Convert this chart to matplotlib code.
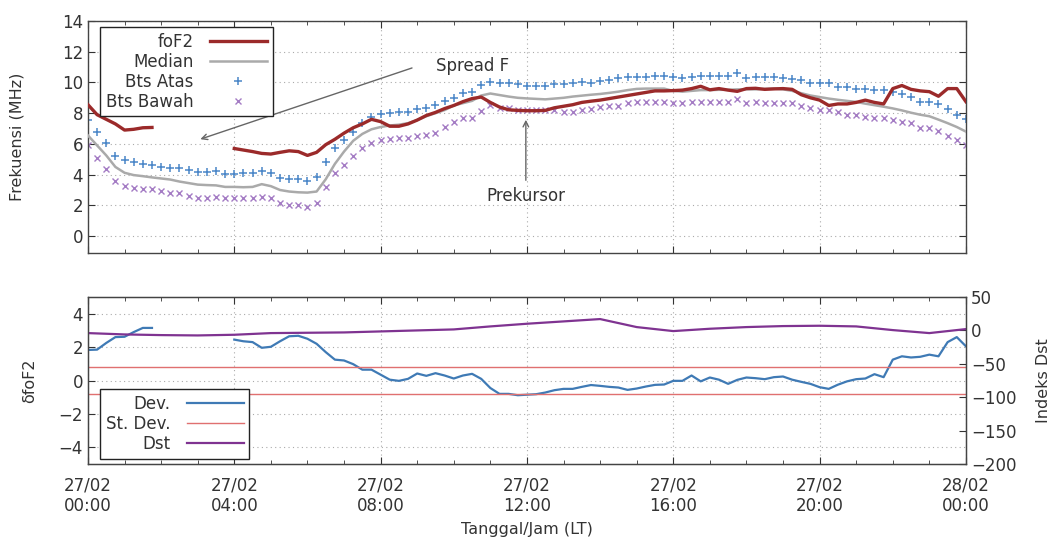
import numpy as np
import matplotlib
matplotlib.use('Agg')
import matplotlib.pyplot as plt
from matplotlib.ticker import MultipleLocator, FixedLocator

plt.rcParams['font.family'] = ['DejaVu Sans']
plt.rcParams['text.color'] = '#333333'
plt.rcParams['axes.labelcolor'] = '#333333'
plt.rcParams['xtick.color'] = '#333333'
plt.rcParams['ytick.color'] = '#333333'

nan = np.nan

# waktu (jam LT) tiap 15 menit, 27/02 00:00 - 28/02 00:00
jam = np.arange(97) * 0.25

fof2 = [8.55, 7.9, 7.6, 7.3, 6.9, 6.95, 7.05, 7.07,
        nan, nan, nan, nan, nan, nan, nan, nan,
        5.7, 5.6, 5.5, 5.38, 5.34, 5.45, 5.55, 5.5,
        5.25, 5.45, 5.95, 6.3, 6.7, 7.05, 7.3, 7.6,
        7.45, 7.15, 7.15, 7.3, 7.55, 7.85, 8.05, 8.3,
        8.5, 8.75, 8.95, 9.05, 8.7, 8.4, 8.22, 8.18,
        8.16, 8.16, 8.18, 8.35, 8.45, 8.55, 8.7, 8.78,
        8.85, 8.95, 9.05, 9.15, 9.25, 9.35, 9.45, 9.45,
        9.47, 9.5, 9.6, 9.75, 9.52, 9.6, 9.5, 9.42,
        9.6, 9.62, 9.55, 9.58, 9.6, 9.55, 9.2, 9.0,
        8.85, 8.5, 8.6, 8.6, 8.7, 8.85, 8.7, 8.6,
        9.6, 9.8, 9.55, 9.45, 9.4, 9.1, 9.6, 9.6,
        8.75]

median = [6.55, 5.9, 5.25, 4.5, 4.12, 3.97, 3.9, 3.82,
          3.75, 3.68, 3.55, 3.45, 3.35, 3.32, 3.3, 3.2,
          3.2, 3.18, 3.2, 3.38, 3.25, 3.0, 2.9, 2.85,
          2.83, 2.9, 3.7, 4.7, 5.5, 6.2, 6.65, 6.95,
          7.1, 7.2, 7.25, 7.35, 7.55, 7.8, 8.0, 8.2,
          8.5, 8.65, 8.8, 9.15, 9.28, 9.18, 9.08, 9.0,
          8.96, 8.93, 8.9, 8.95, 9.0, 9.08, 9.14, 9.2,
          9.25, 9.32, 9.4, 9.5, 9.58, 9.6, 9.6, 9.6,
          9.45, 9.4, 9.45, 9.5, 9.5, 9.52, 9.52, 9.55,
          9.55, 9.55, 9.58, 9.6, 9.55, 9.45, 9.3, 9.15,
          9.05, 8.95, 8.87, 8.8, 8.73, 8.62, 8.52, 8.42,
          8.31, 8.18, 8.03, 7.9, 7.8, 7.58, 7.35, 7.1,
          6.8]

bts_atas = [7.55, 6.75, 6.03, 5.21, 4.95, 4.82, 4.69, 4.64,
            4.51, 4.45, 4.43, 4.30, 4.17, 4.17, 4.25, 4.04,
            4.04, 4.08, 4.12, 4.25, 4.12, 3.78, 3.69, 3.69,
            3.60, 3.82, 4.84, 5.71, 6.25, 6.79, 7.38, 7.73,
            7.94, 8.03, 8.05, 8.09, 8.25, 8.35, 8.53, 8.81,
            9.01, 9.29, 9.35, 9.83, 10.05, 9.94, 9.94, 9.90,
            9.79, 9.79, 9.79, 9.90, 9.90, 9.94, 10.0, 9.98,
            10.11, 10.16, 10.26, 10.33, 10.37, 10.37, 10.44, 10.44,
            10.37, 10.3, 10.35, 10.4, 10.44, 10.44, 10.44, 10.6,
            10.28, 10.37, 10.33, 10.37, 10.3, 10.2, 10.16, 9.98,
            9.98, 9.98, 9.72, 9.68, 9.55, 9.55, 9.5, 9.5,
            9.4, 9.22, 9.07, 8.74, 8.74, 8.57, 8.25, 7.88,
            7.6]

bts_bawah = [5.92, 5.10, 4.34, 3.58, 3.26, 3.10, 3.04, 3.04,
             2.93, 2.82, 2.78, 2.60, 2.50, 2.45, 2.56, 2.45,
             2.45, 2.45, 2.50, 2.56, 2.45, 2.17, 2.02, 2.02,
             1.91, 2.13, 3.17, 4.08, 4.62, 5.21, 5.75, 6.03,
             6.25, 6.32, 6.36, 6.40, 6.51, 6.58, 6.73, 7.12,
             7.44, 7.66, 7.66, 8.16, 8.53, 8.36, 8.36, 8.20,
             8.20, 8.20, 8.20, 8.20, 8.09, 8.09, 8.20, 8.27,
             8.42, 8.49, 8.49, 8.64, 8.70, 8.70, 8.75, 8.72,
             8.68, 8.68, 8.7, 8.7, 8.72, 8.72, 8.74, 8.9,
             8.64, 8.74, 8.64, 8.64, 8.64, 8.64, 8.46, 8.31,
             8.2, 8.2, 8.09, 7.88, 7.88, 7.77, 7.66, 7.66,
             7.55, 7.44, 7.33, 7.01, 7.01, 6.86, 6.53, 6.25,
             5.92]

dev = [1.83, 1.85, 2.25, 2.6, 2.62, 2.9, 3.15, 3.15,
       nan, nan, nan, nan, nan, nan, nan, nan,
       2.45, 2.35, 2.3, 1.96, 2.02, 2.35, 2.65, 2.68,
       2.5, 2.2, 1.7, 1.25, 1.2, 0.98, 0.65, 0.65,
       0.35, 0.05, -0.02, 0.1, 0.42, 0.28, 0.44, 0.3,
       0.12, 0.3, 0.4, 0.1, -0.45, -0.8, -0.8, -0.88,
       -0.85, -0.82, -0.72, -0.58, -0.5, -0.5, -0.38, -0.27,
       -0.32, -0.38, -0.42, -0.56, -0.48, -0.36, -0.26, -0.24,
       -0.02, -0.02, 0.3, -0.05, 0.18, 0.05, -0.2, 0.04,
       0.18, 0.14, 0.08, 0.2, 0.24, 0.05, -0.08, -0.2,
       -0.4, -0.5, -0.25, -0.05, 0.08, 0.12, 0.38, 0.2,
       1.25, 1.45, 1.38, 1.42, 1.55, 1.45, 2.3, 2.6,
       2.05]

st_dev = 0.8

# indeks Dst per jam
jam_dst = np.arange(25)
dst = [-4, -6, -7, -7.5, -6.5, -4, -3.5, -3, -1.5, 0, 1.5, 6, 10,
       13.5, 17, 5, -1, 2.5, 5, 6.5, 7, 6, 0.5, -4, 2]

label_jam = ['27/02\n00:00', '27/02\n04:00', '27/02\n08:00', '27/02\n12:00',
             '27/02\n16:00', '27/02\n20:00', '28/02\n00:00']

fig = plt.figure(figsize=(10.56, 5.45), dpi=100)
ax1 = fig.add_axes([0.0833, 0.5358, 0.8314, 0.4257])
ax2 = fig.add_axes([0.0833, 0.1486, 0.8314, 0.3064])

leg_kw = dict(markerfirst=False, fancybox=False, edgecolor='#222222', framealpha=1,
              fontsize=12, handlelength=3.4, borderpad=0.35, labelspacing=0.12,
              handletextpad=1.0, borderaxespad=0)


def gaya(ax):
    for s in ax.spines.values():
        s.set_color('#444444')
        s.set_linewidth(1.0)
    ax.set_xlim(0, 24)
    ax.xaxis.set_major_locator(MultipleLocator(4))
    ax.xaxis.set_minor_locator(MultipleLocator(1))
    ax.tick_params(which='both', direction='in', top=True, labelsize=12)
    ax.tick_params(which='major', length=5)
    ax.tick_params(which='minor', length=3)
    ax.tick_params(axis='x', pad=9)
    ax.grid(True, which='major', linestyle=(0, (1, 3)), color='#aaaaaa', linewidth=0.8)


# panel atas
gaya(ax1)
ax1.plot(jam, fof2, color='#9b2a2a', lw=2.4, label='foF2', zorder=4)
ax1.plot(jam, median, color='#aaaaaa', lw=1.8, label='Median', zorder=3)
ax1.plot(jam, bts_atas, ls='none', marker='+', ms=6, mew=1.1, color='#4a86c8', label='Bts Atas')
ax1.plot(jam, bts_bawah, ls='none', marker='x', ms=5, mew=1.0, color='#a47cc4', label='Bts Bawah')
ax1.set_ylim(-1.1, 14)
ax1.yaxis.set_major_locator(MultipleLocator(2))
ax1.tick_params(axis='y', right=True)
ax1.set_xticklabels([])
ax1.set_ylabel('Frekuensi (MHz)', fontsize=11.5)
ax1.yaxis.set_label_coords(-0.072, 0.5)
ax1.legend(loc='upper left', bbox_to_anchor=(0.0137, 0.975), **leg_kw)

ax1.annotate('', xy=(3.0, 6.25), xytext=(8.93, 11.0),
             arrowprops=dict(arrowstyle='->', color='#666666', lw=1.0))
ax1.text(10.5, 11.1, 'Spread F', ha='center', va='center', fontsize=12)
ax1.annotate('', xy=(11.97, 7.75), xytext=(11.97, 3.45),
             arrowprops=dict(arrowstyle='->', color='#666666', lw=1.0))
ax1.text(11.97, 2.6, 'Prekursor', ha='center', va='center', fontsize=12)

# panel bawah
gaya(ax2)
l1, = ax2.plot(jam, dev, color='#3f7ab5', lw=1.6, label='Dev.')
ax2.plot(jam, [st_dev] * len(jam), color='#e07070', lw=1.0)
l2, = ax2.plot(jam, [-st_dev] * len(jam), color='#e07070', lw=1.0, label='St. Dev.')
ax2.set_ylim(-5, 5)
ax2.yaxis.set_major_locator(FixedLocator([-4, -2, 0, 2, 4]))
ax2.set_xticks([0, 4, 8, 12, 16, 20, 24])
ax2.set_xticklabels(label_jam)
ax2.set_ylabel('δfoF2', fontsize=11.5)
ax2.yaxis.set_label_coords(-0.058, 0.5)
ax2.set_xlabel('Tanggal/Jam (LT)', fontsize=11.5, labelpad=5)

ax3 = ax2.twinx()
ax3.set_position(ax2.get_position())
l3, = ax3.plot(jam_dst, dst, color='#7f3391', lw=1.6, label='Dst')
ax3.set_ylim(-200, 50)
ax3.yaxis.set_major_locator(MultipleLocator(50))
ax3.tick_params(axis='y', direction='in', length=5, labelsize=12)
for s in ax3.spines.values():
    s.set_color('#444444')
ax3.set_ylabel('Indeks Dst', fontsize=11.5)
ax3.yaxis.set_label_coords(1.08, 0.5)
ax3.legend(handles=[l1, l2, l3], loc='lower left', bbox_to_anchor=(0.0137, 0.03), **leg_kw)

fig.savefig('out.png', dpi=100)
